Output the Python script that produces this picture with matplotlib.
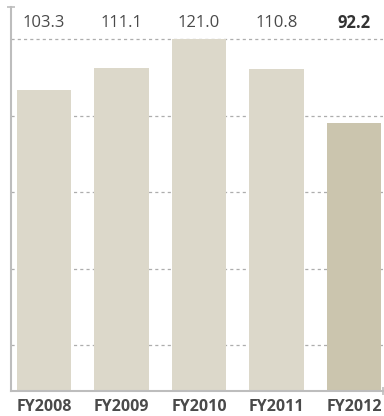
import matplotlib
matplotlib.use('Agg')
import matplotlib.pyplot as plt
from matplotlib.transforms import blended_transform_factory

plt.rcParams['font.family'] = ['Open Sans', 'DejaVu Sans']

years = ['FY2008', 'FY2009', 'FY2010', 'FY2011', 'FY2012']
values = [103.3, 111.1, 121.0, 110.8, 92.2]
grid_levels = [15.8, 42.1, 68.4, 94.7, 121.0]

bar_colors = ['#dcd8ca'] * 4 + ['#cbc5ae']
axis_color = '#bdbdbd'
text_color = '#4a4a4a'

fig = plt.figure(figsize=(3.84, 4.16), dpi=100)
ax = fig.add_axes([11 / 384, 25 / 416, 372 / 384, 384 / 416])

x = list(range(len(years)))

# dashed guides sit behind the bars
for g in grid_levels:
    ax.axhline(g, color='#adadad', linewidth=0.9, linestyle=(0, (2.5, 2.5)), zorder=0)

ax.bar(x, values, width=0.70, color=bar_colors, zorder=2)

ax.set_xlim(-0.426, 4.374)
ax.set_ylim(0, 132)

# value labels across the top
trans = blended_transform_factory(ax.transData, ax.transAxes)
for i, v in enumerate(values):
    last = i == len(values) - 1
    ax.text(i, 0.958, f'{v:.1f}', transform=trans, ha='center', va='center',
            fontsize=12, color='#333333' if last else text_color,
            fontweight='bold' if last else 'normal')

for side in ['top', 'right']:
    ax.spines[side].set_visible(False)
for side in ['left', 'bottom']:
    ax.spines[side].set_color(axis_color)
    ax.spines[side].set_linewidth(1.5)

ax.set_xticks(x)
ax.set_xticklabels(years, fontweight='bold', fontsize=11.5, color=text_color)
ax.tick_params(axis='x', length=0, pad=6)
ax.set_yticks([])

# small end caps on the two axes
ax.set_yticks([132], minor=True)
ax.set_xticks([4.374], minor=True)
ax.tick_params(which='minor', length=6, width=1.2, color=axis_color,
               direction='inout', labelleft=False, labelbottom=False)

fig.savefig('out.png', dpi=100)
